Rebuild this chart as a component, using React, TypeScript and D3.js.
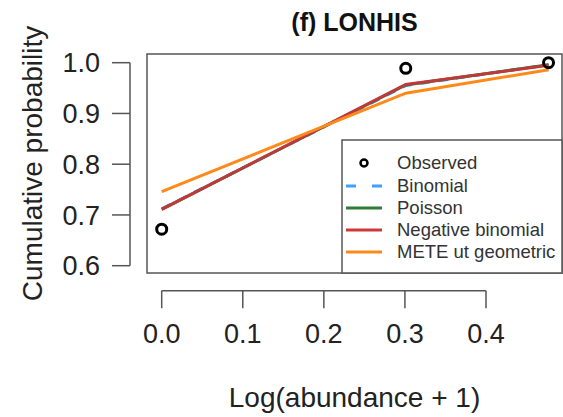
import React from "react";
import * as d3 from "d3";

const xValues = [0, 0.30103, 0.47712];
const observed = [0.672, 0.989, 1.0];
const binomial = [0.712, 0.955, 0.996];
const poisson = [0.711, 0.956, 0.996];
const negBinomial = [0.711, 0.957, 0.995];
const mete = [0.746, 0.94, 0.986];
const xTicks = [0, 0.1, 0.2, 0.3, 0.4];
const yTicks = [0.6, 0.7, 0.8, 0.9, 1.0];

const title = "(f) LONHIS";
const xLabel = "Log(abundance + 1)";
const yLabel = "Cumulative probability";

const legendItems = [
  { label: "Observed", kind: "point", color: "#000" },
  { label: "Binomial", kind: "dash", color: "#3fa0ff" },
  { label: "Poisson", kind: "line", color: "#2e7d32" },
  { label: "Negative binomial", kind: "line", color: "#d03838" },
  { label: "METE ut geometric", kind: "line", color: "#ff8a1a" },
];

const seriesList = [
  { values: binomial, color: "#3fa0ff", dash: "10,8" },
  { values: poisson, color: "#2e7d32", dash: null },
  { values: negBinomial, color: "#c0393a", dash: null },
  { values: mete, color: "#ff8a1a", dash: null },
];

const FONT = "'Liberation Sans', Arial, Helvetica, sans-serif";

export default function App() {
  const W = 563;
  const H = 417;
  const box = { left: 147, right: 562, top: 54, bottom: 273 };
  const x = d3.scaleLinear().domain([0, 0.4]).range([161.7, 486]);
  const y = d3.scaleLinear().domain([0.6, 1.0]).range([265.7, 62.7]);
  const xAxisY = 290.7;
  const yAxisX = 130;

  const line = d3
    .line<number>()
    .x((_, i) => x(xValues[i]))
    .y((d) => y(d));

  const leg = { left: 342, top: 140 };
  const legRowY = [163, 186, 208, 230, 252];

  return (
    <svg
      width={W}
      height={H}
      style={{ position: "absolute", left: 0, top: 0, background: "#fff" }}
      fontFamily={FONT}
    >
      <rect x={0} y={0} width={W} height={H} fill="#fff" />
      {/* title */}
      <text x={(box.left + box.right) / 2} y={31} textAnchor="middle" fontWeight="bold" fontSize={25} fill="#111">
        {title}
      </text>
      {/* plot box */}
      <rect
        x={box.left}
        y={box.top}
        width={box.right - box.left}
        height={box.bottom - box.top}
        fill="none"
        stroke="#555"
        strokeWidth={1.5}
      />
      {/* series lines */}
      {seriesList.map((s, i) => (
        <path
          key={i}
          d={line(s.values) || ""}
          fill="none"
          stroke={s.color}
          strokeWidth={3}
          strokeDasharray={s.dash || undefined}
        />
      ))}
      {/* observed points */}
      {observed.map((v, i) => (
        <circle key={i} cx={x(xValues[i])} cy={y(v)} r={5} fill="none" stroke="#000" strokeWidth={3} />
      ))}
      {/* legend */}
      <rect
        x={leg.left}
        y={leg.top}
        width={box.right - leg.left}
        height={box.bottom - leg.top}
        fill="#fff"
        stroke="#555"
        strokeWidth={1.5}
      />
      {legendItems.map((it, i) => (
        <g key={i}>
          {it.kind === "point" ? (
            <circle cx={364} cy={legRowY[i]} r={3.5} fill="none" stroke="#000" strokeWidth={2.5} />
          ) : (
            <line
              x1={346}
              x2={382}
              y1={legRowY[i]}
              y2={legRowY[i]}
              stroke={it.color}
              strokeWidth={3}
              strokeDasharray={it.kind === "dash" ? "10,16" : undefined}
            />
          )}
          <text x={397} y={legRowY[i]} dy="0.35em" fontSize={18.5} fill="#333">
            {it.label}
          </text>
        </g>
      ))}
      {/* x axis */}
      <line x1={x(0)} x2={x(0.4)} y1={xAxisY} y2={xAxisY} stroke="#555" strokeWidth={1.5} />
      {xTicks.map((t) => (
        <g key={t}>
          <line x1={x(t)} x2={x(t)} y1={xAxisY} y2={xAxisY + 17.5} stroke="#555" strokeWidth={1.5} />
          <text x={x(t)} y={343} textAnchor="middle" fontSize={27} fill="#222">
            {d3.format(".1f")(t)}
          </text>
        </g>
      ))}
      {/* y axis */}
      <line x1={yAxisX} x2={yAxisX} y1={y(0.6)} y2={y(1.0)} stroke="#555" strokeWidth={1.5} />
      {yTicks.map((t) => (
        <g key={t}>
          <line x1={yAxisX - 18} x2={yAxisX} y1={y(t)} y2={y(t)} stroke="#555" strokeWidth={1.5} />
          <text x={100} y={y(t)} dy="0.36em" textAnchor="end" fontSize={27} fill="#222">
            {d3.format(".1f")(t)}
          </text>
        </g>
      ))}
      {/* axis titles */}
      <text x={(box.left + box.right) / 2} y={407} textAnchor="middle" fontSize={28} fill="#222">
        {xLabel}
      </text>
      <text
        transform={`translate(42, ${(box.top + box.bottom) / 2}) rotate(-90)`}
        textAnchor="middle"
        fontSize={28}
        fill="#222"
      >
        {yLabel}
      </text>
    </svg>
  );
}
